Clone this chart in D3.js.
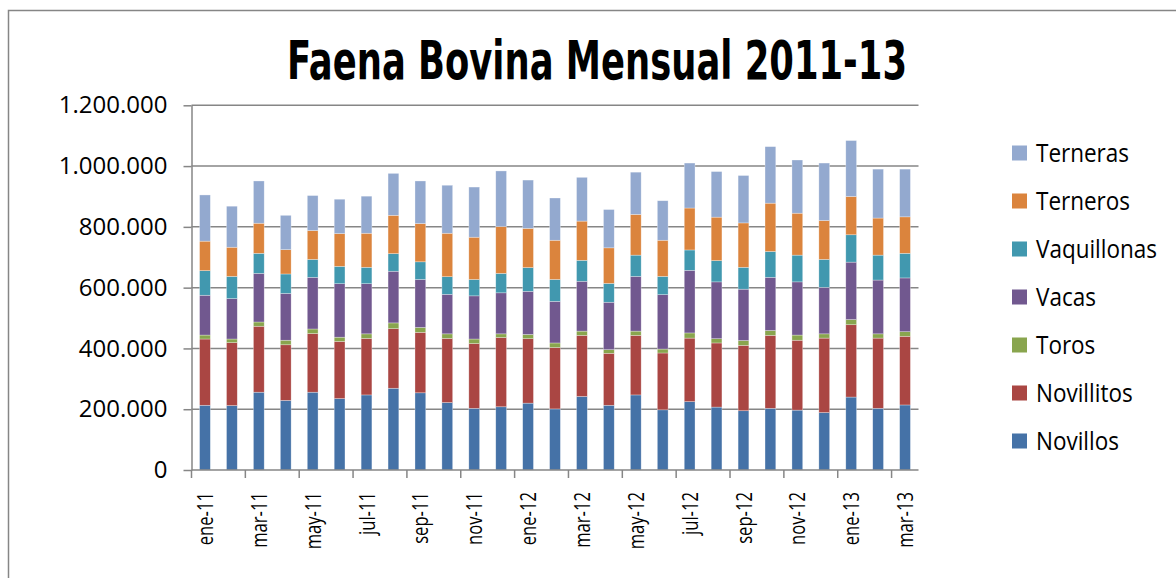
<!DOCTYPE html>
<html lang="es">
<head>
  <meta charset="UTF-8">
  <title>Faena Bovina Mensual 2011-13</title>
  <script src="https://d3js.org/d3.v7.min.js"></script>
  <style>
    body {
      margin: 0;
      background: #fff;
    }
    svg text {
      font-family: 'Open Sans', 'Noto Sans', sans-serif;
      fill: #000;
    }
    .title {
      font-family: 'Liberation Sans Narrow', 'DejaVu Sans Condensed', 'Liberation Sans', sans-serif !important;
      font-weight: bold;
      font-size: 53px;
    }
    .axis path, .axis line {
      stroke: #868686;
      stroke-width: 1.5;
    }
    .y-axis text {
      font-size: 24px;
    }
    .x-label {
      font-size: 22.5px;
    }
    .grid line {
      stroke: #868686;
      stroke-width: 1.5;
    }
    .legend text {
      font-size: 25px;
    }
  </style>
</head>
<body>
  <svg width="1176" height="578"></svg>

  <script>
    // months, ene-11 .. mar-13
    const months = ['ene-11', 'feb-11', 'mar-11', 'abr-11', 'may-11', 'jun-11', 'jul-11', 'ago-11', 'sep-11',
      'oct-11', 'nov-11', 'dic-11', 'ene-12', 'feb-12', 'mar-12', 'abr-12', 'may-12', 'jun-12',
      'jul-12', 'ago-12', 'sep-12', 'oct-12', 'nov-12', 'dic-12', 'ene-13', 'feb-13', 'mar-13'];

    // head count per category (approx.)
    const novillos    = [213000, 212000, 256000, 229000, 256000, 235000, 247000, 269000, 254000, 222000, 203000, 208000, 220000, 201000, 242000, 213000, 247000, 198000, 225000, 207000, 195000, 203000, 197000, 189000, 240000, 203000, 214000];
    const novillitos  = [218000, 207000, 217000, 183000, 193000, 188000, 186000, 196000, 199000, 211000, 213000, 228000, 212000, 202000, 201000, 171000, 196000, 187000, 209000, 211000, 215000, 240000, 230000, 245000, 238000, 231000, 226000];
    const toros       = [13000, 12000, 14000, 15000, 15000, 14000, 15000, 19000, 16000, 15000, 15000, 12000, 14000, 15000, 14000, 12000, 14000, 13000, 17000, 14000, 16000, 16000, 17000, 14000, 17000, 14000, 15000];
    const vacas       = [131000, 133000, 160000, 154000, 170000, 176000, 165000, 170000, 158000, 130000, 142000, 135000, 142000, 137000, 164000, 156000, 180000, 179000, 206000, 187000, 169000, 175000, 175000, 153000, 189000, 177000, 177000];
    const vaquillonas = [81000, 73000, 66000, 64000, 59000, 57000, 54000, 58000, 58000, 58000, 54000, 64000, 78000, 72000, 69000, 62000, 70000, 60000, 67000, 70000, 72000, 85000, 88000, 92000, 90000, 82000, 81000];
    const terneros    = [97000, 96000, 99000, 80000, 95000, 108000, 112000, 126000, 126000, 143000, 139000, 154000, 129000, 129000, 129000, 117000, 134000, 119000, 138000, 143000, 146000, 159000, 138000, 128000, 126000, 122000, 120000];
    const terneras    = [152000, 135000, 139000, 113000, 115000, 113000, 122000, 138000, 140000, 158000, 165000, 183000, 159000, 139000, 144000, 126000, 139000, 130000, 148000, 150000, 156000, 186000, 175000, 189000, 184000, 161000, 157000];

    const seriesNames = ['Novillos', 'Novillitos', 'Toros', 'Vacas', 'Vaquillonas', 'Terneros', 'Terneras'];
    const seriesValues = [novillos, novillitos, toros, vacas, vaquillonas, terneros, terneras];
    const colors = ['#4572A7', '#AA4643', '#89A54E', '#71588F', '#4198AF', '#DB843D', '#93A9CF'];

    const yTicks = [0, 200000, 400000, 600000, 800000, 1000000, 1200000];

    const table = months.map((m, i) => {
      const row = { month: m };
      seriesNames.forEach((s, j) => { row[s] = seriesValues[j][i]; });
      return row;
    });

    const svg = d3.select('svg');

    // chart border (runs off the right and bottom edges)
    svg.append('rect')
      .attr('x', 8.5).attr('y', 10.5)
      .attr('width', 1200).attr('height', 600)
      .attr('fill', 'none')
      .attr('stroke', '#868686')
      .attr('stroke-width', 1.5);

    svg.append('text')
      .attr('class', 'title')
      .attr('x', 597).attr('y', 79)
      .attr('text-anchor', 'middle')
      .attr('textLength', 620)
      .attr('lengthAdjust', 'spacingAndGlyphs')
      .text('Faena Bovina Mensual 2011-13');

    const plotLeft = 191.5, plotRight = 918.5, plotTop = 105.3, plotBottom = 470;

    const x = d3.scaleBand()
      .domain(months)
      .range([plotLeft, plotRight])
      .paddingInner(0.6)
      .paddingOuter(0.3);

    const y = d3.scaleLinear()
      .domain([0, 1200000])
      .range([plotBottom, plotTop]);

    // gridlines
    svg.append('g')
      .attr('class', 'grid')
      .selectAll('line')
      .data(yTicks.slice(1))
      .join('line')
      .attr('x1', plotLeft).attr('x2', plotRight)
      .attr('y1', d => y(d)).attr('y2', d => y(d));

    const stacked = d3.stack().keys(seriesNames)(table);

    svg.append('g')
      .selectAll('g')
      .data(stacked)
      .join('g')
      .attr('fill', (d, i) => colors[i])
      .selectAll('rect')
      .data(d => d)
      .join('rect')
      .attr('x', d => x(d.data.month))
      .attr('y', d => y(d[1]))
      .attr('width', x.bandwidth())
      .attr('height', d => y(d[0]) - y(d[1]))
      .attr('stroke', '#ffffff')
      .attr('stroke-opacity', 0.5)
      .attr('stroke-width', 0.6);

    // y axis
    const fmt = v => d3.format(',')(v).replace(/,/g, '.');
    svg.append('g')
      .attr('class', 'axis y-axis')
      .attr('transform', `translate(${plotLeft},0)`)
      .call(d3.axisLeft(y).tickValues(yTicks).tickFormat(fmt).tickSize(8).tickSizeOuter(0).tickPadding(16));

    // x axis: label every 2nd month, ticks on category boundaries every 2
    const step = x.step();
    const xAxis = svg.append('g')
      .attr('class', 'axis')
      .attr('transform', `translate(0,${plotBottom})`);

    xAxis.append('line')
      .attr('x1', plotLeft).attr('x2', plotRight)
      .attr('y1', 0).attr('y2', 0);

    const boundaries = d3.range(0, months.length + 1, 2);
    xAxis.selectAll('.tk')
      .data(boundaries)
      .join('line')
      .attr('class', 'tk')
      .attr('x1', d => plotLeft + d * step).attr('x2', d => plotLeft + d * step)
      .attr('y1', 0).attr('y2', 8);

    // labels are narrow along their length in the original
    xAxis.selectAll('.x-label')
      .data(months.filter((m, i) => i % 2 === 0))
      .join('text')
      .attr('class', 'x-label')
      .attr('transform', d => `translate(${x(d) + x.bandwidth() / 2},22) rotate(-90) scale(0.74,1)`)
      .attr('text-anchor', 'end')
      .attr('dy', '0.36em')
      .text(d => d);

    // legend, top entry is the last series
    const legend = svg.append('g')
      .attr('class', 'legend')
      .selectAll('g')
      .data(seriesNames.slice().reverse())
      .join('g')
      .attr('transform', (d, i) => `translate(1012,${153 + i * 48})`);

    legend.append('rect')
      .attr('x', 0).attr('y', -7.5)
      .attr('width', 15).attr('height', 15)
      .attr('fill', d => colors[seriesNames.indexOf(d)]);

    legend.append('text')
      .attr('transform', 'translate(24,0) scale(0.9,1)')
      .attr('dy', '0.36em')
      .text(d => d);
  </script>
</body>
</html>
